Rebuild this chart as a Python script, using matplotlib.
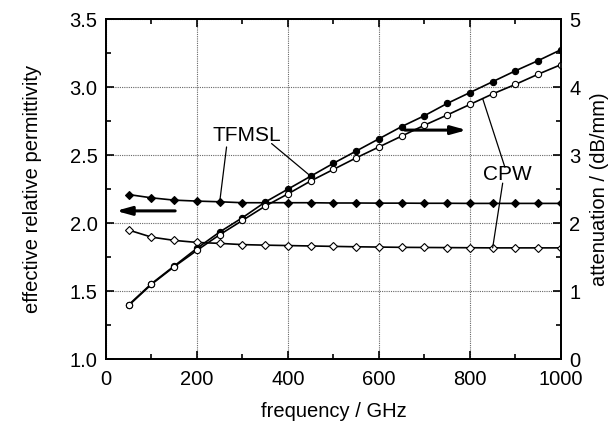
import numpy as np
import matplotlib
matplotlib.use("Agg")
import matplotlib.pyplot as plt

plt.rcParams['font.family'] = ['Liberation Sans', 'DejaVu Sans']

# data
freq = [50, 100, 150, 200, 250, 300, 350, 400, 450, 500,
        550, 600, 650, 700, 750, 800, 850, 900, 950, 1000]

perm_tfmsl = [2.21, 2.186, 2.169, 2.162, 2.157, 2.15, 2.15, 2.15, 2.15, 2.148,
              2.148, 2.147, 2.147, 2.146, 2.146, 2.145, 2.145, 2.145, 2.145, 2.145]
perm_cpw = [1.949, 1.897, 1.873, 1.858, 1.851, 1.842, 1.838, 1.835, 1.832, 1.829,
            1.826, 1.824, 1.822, 1.821, 1.82, 1.819, 1.818, 1.818, 1.818, 1.818]

att_tfmsl = [0.80, 1.11, 1.37, 1.63, 1.87, 2.08, 2.31, 2.50, 2.69, 2.88,
             3.06, 3.24, 3.42, 3.58, 3.76, 3.92, 4.08, 4.24, 4.39, 4.55]
att_cpw = [0.79, 1.10, 1.36, 1.60, 1.83, 2.04, 2.25, 2.43, 2.62, 2.79,
           2.96, 3.12, 3.28, 3.44, 3.59, 3.745, 3.90, 4.04, 4.19, 4.33]

fig = plt.figure(figsize=(6.11, 4.25), dpi=100)
ax = fig.add_axes([0.1735, 0.155, 0.7445, 0.80])
ax2 = ax.twinx()

lw = 1.2
ax.plot(freq, perm_tfmsl, color='black', lw=lw, marker='D', ms=4.5,
        mfc='black', mec='black', mew=0.8)
ax.plot(freq, perm_cpw, color='black', lw=lw, marker='D', ms=4.5,
        mfc='white', mec='black', mew=0.8)
ax2.plot(freq, att_tfmsl, color='black', lw=lw, marker='o', ms=4.5,
         mfc='black', mec='black', mew=0.8)
ax2.plot(freq, att_cpw, color='black', lw=lw, marker='o', ms=4.5,
         mfc='white', mec='black', mew=0.8)

ax.set_xlim(0, 1000)
ax.set_ylim(1.0, 3.5)
ax2.set_ylim(0, 5)
ax.set_xticks([0, 200, 400, 600, 800, 1000])
ax.set_xticks([100, 300, 500, 700, 900], minor=True)
ax.set_yticks([1.0, 1.5, 2.0, 2.5, 3.0, 3.5])
ax.set_yticks([1.25, 1.75, 2.25, 2.75, 3.25], minor=True)
ax.set_yticklabels(['1.0', '1.5', '2.0', '2.5', '3.0', '3.5'])
ax2.set_yticks([0, 1, 2, 3, 4, 5])
ax2.set_yticks([0.5, 1.5, 2.5, 3.5, 4.5], minor=True)

ax.tick_params(axis='both', which='both', direction='in', top=True,
               labelsize=14.5, width=1.2)
ax.tick_params(which='major', length=6)
ax.tick_params(which='minor', length=3.5)
ax.tick_params(axis='x', which='major', pad=8)
ax.tick_params(axis='y', which='major', pad=6)
ax.tick_params(axis='y', which='both', right=False)
ax2.tick_params(axis='y', which='both', direction='in', labelsize=14.5, width=1.2)
ax2.tick_params(which='major', length=6, pad=6)
ax2.tick_params(which='minor', length=3.5)
for a in (ax, ax2):
    for s in a.spines.values():
        s.set_linewidth(1.3)

ax.grid(True, which='major', linestyle=(0, (1, 1)), color='#666666', lw=0.8)
ax.set_axisbelow(True)

ax.set_xlabel('frequency / GHz', fontsize=14.5, labelpad=9)
ax.set_ylabel('effective relative permittivity', fontsize=14.5, labelpad=20)
ax2.set_ylabel('attenuation / (dB/mm)', fontsize=14.5, labelpad=7)

# labels with leader lines
ax.text(310, 2.647, 'TFMSL', fontsize=15, ha='center', va='center')
ax.annotate('', xy=(freq[4], perm_tfmsl[4]), xytext=(265, 2.56),
            arrowprops=dict(arrowstyle='-', lw=0.9, color='black',
                            shrinkA=0, shrinkB=0))
ax2.annotate('', xy=(freq[8], att_tfmsl[8]), xytext=(364, 3.17),
             arrowprops=dict(arrowstyle='-', lw=0.9, color='black',
                             shrinkA=0, shrinkB=0))

ax.text(883, 2.36, 'CPW', fontsize=15, ha='center', va='center')
ax2.annotate('', xy=(828, np.interp(828, freq, att_cpw)), xytext=(877, 2.82),
             arrowprops=dict(arrowstyle='-', lw=0.9, color='black',
                             shrinkA=0, shrinkB=0))
ax.annotate('', xy=(freq[16], perm_cpw[16]), xytext=(872, 2.294),
            arrowprops=dict(arrowstyle='-', lw=0.9, color='black',
                            shrinkA=0, shrinkB=0))

# direction arrows
ax.annotate('', xy=(22, 2.09), xytext=(152, 2.09),
            arrowprops=dict(arrowstyle='-|>,head_length=0.9,head_width=0.25',
                            lw=2.2, color='black', shrinkA=0, shrinkB=0))
ax.annotate('', xy=(793, 2.684), xytext=(657, 2.684),
            arrowprops=dict(arrowstyle='-|>,head_length=0.9,head_width=0.25',
                            lw=2.2, color='black', shrinkA=0, shrinkB=0))

fig.savefig('out.png', dpi=100)
